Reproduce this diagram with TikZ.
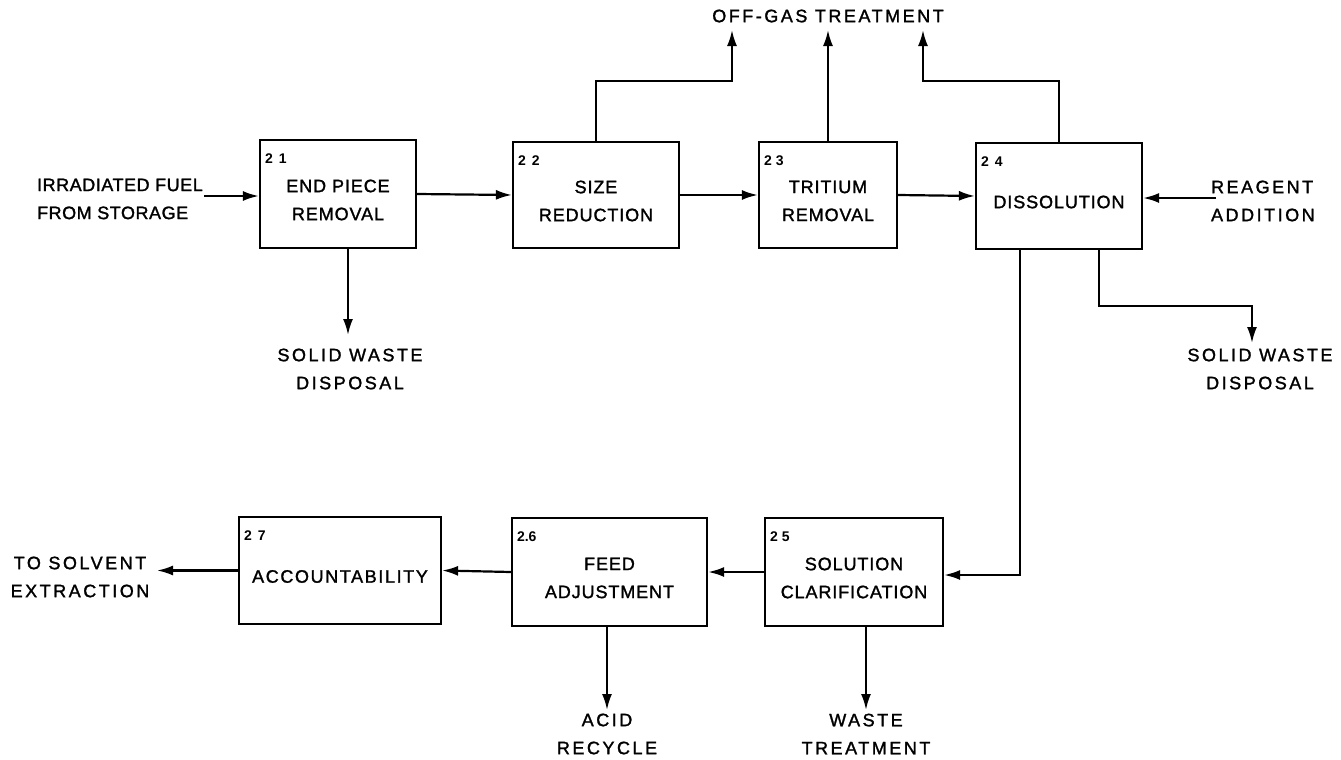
\documentclass[tikz,border=0pt]{standalone}
\usepackage{fontspec}
\setmainfont{Liberation Sans}
\newfontfamily\boxfont[LetterSpace=5,FakeBold=1.5]{Liberation Sans}
\newfontfamily\infont[LetterSpace=3,FakeBold=1.5]{Liberation Sans}
\newfontfamily\widefont[LetterSpace=14,FakeBold=1.5]{Liberation Sans}
\newfontfamily\numfont{Liberation Sans}
\usetikzlibrary{arrows.meta}
\begin{document}
\begin{tikzpicture}[x=0.5pt,y=-0.5pt,
  line width=1.1pt,
  arr/.style={-{Latex[length=8pt,width=5pt]}},
  stepbox/.style={draw, line width=1.1pt, inner sep=0pt},
  boxtxt/.style={inner sep=0pt, align=center, yshift=-3pt,
     font=\boxfont\fontsize{9}{14}\selectfont},
  numlbl/.style={anchor=north west, inner sep=0pt, xshift=2.5pt, yshift=-7pt,
     font=\numfont\bfseries\fontsize{7}{8}\selectfont},
  outlbl/.style={align=center, inner sep=0pt, font=\widefont\fontsize{9}{14}\selectfont},
  inlbl/.style={align=left, inner sep=0pt, font=\infont\fontsize{9}{14}\selectfont}]
\useasboundingbox (0,0) rectangle (1341,760);

% boxes
\node[stepbox, minimum width=78pt, minimum height=54pt] (b21) at (338,194) {};
\node[stepbox, minimum width=83pt, minimum height=53pt] (b22) at (596,195) {};
\node[stepbox, minimum width=69pt, minimum height=53pt] (b23) at (828,195) {};
\node[stepbox, minimum width=83pt, minimum height=53pt] (b24) at (1059,196) {};
\node[stepbox, minimum width=89pt, minimum height=54pt] (b25) at (854,572) {};
\node[stepbox, minimum width=97.5pt, minimum height=54pt] (b26) at (609.5,572) {};
\node[stepbox, minimum width=101pt, minimum height=53.5pt] (b27) at (340,570.5) {};

% box texts
\node[boxtxt] (t21) at (b21.center) {END PIECE\\REMOVAL};
\node[boxtxt] (t22) at (b22.center) {SIZE\\REDUCTION};
\node[boxtxt] (t23) at (b23.center) {TRITIUM\\REMOVAL};
\node[boxtxt] (t24) at (b24.center) {DISSOLUTION};
\node[boxtxt] (t25) at (b25.center) {SOLUTION\\CLARIFICATION};
\node[boxtxt] (t26) at (b26.center) {FEED\\ADJUSTMENT};
\node[boxtxt, font=\boxfont\addfontfeature{LetterSpace=9}\fontsize{9}{14}\selectfont] (t27) at (b27.center) {ACCOUNTABILITY};

% numbers
\node[numlbl] (n21) at (b21.north west) {2\hspace{3pt}1};
\node[numlbl] (n22) at (b22.north west) {2\hspace{3pt}2};
\node[numlbl] (n23) at (b23.north west) {2\hspace{2pt}3};
\node[numlbl] (n24) at (b24.north west) {2\hspace{3pt}4};
\node[numlbl] (n25) at (b25.north west) {2\hspace{2pt}5};
\node[numlbl] (n26) at (b26.north west) {2.6};
\node[numlbl] (n27) at (b27.north west) {2\hspace{3pt}7};

% coordinates
\coordinate (in21) at (204,196);
\coordinate (sw1) at (348,335);
\coordinate (j1) at (732,81);
\coordinate (og1) at (732,30);
\coordinate (og2) at (829,30);
\coordinate (og3) at (923,30);
\coordinate (j3) at (923,81);
\coordinate (rg) at (1216,198);
\coordinate (c1) at (1020,575);
\coordinate (j4) at (1099,306);
\coordinate (sw2) at (1252,343);
\coordinate (out) at (157,575);
\coordinate (ar) at (607,710);
\coordinate (wt) at (866,710);

% labels
\node[inlbl, anchor=west] (lin) at (36,199) {IRRADIATED FUEL\\FROM STORAGE};
\node[outlbl] (lsw1) at (350,369) {SOLID WASTE\\DISPOSAL};
\node[outlbl] (log) at (828,16) {OFF-GAS TREATMENT};
\node[inlbl, anchor=west, font=\widefont\fontsize{9}{14}\selectfont] (lrg) at (1210,201) {REAGENT\\ADDITION};
\node[outlbl] (lsw2) at (1260,369) {SOLID WASTE\\DISPOSAL};
\node[outlbl] (lout) at (80,577) {TO SOLVENT\\EXTRACTION};
\node[outlbl] (lar) at (607,734) {ACID\\RECYCLE};
\node[outlbl] (lwt) at (866,734) {WASTE\\TREATMENT};

% connectors
\draw[arr] (in21) -- (in21 -| b21.west);
\draw[arr] (b21.east) -- (b22.west);
\draw[arr] (b22.east) -- (b23.west);
\draw[arr] (b23.east) -- (b24.west);
\draw[arr] (b21.south -| sw1) -- (sw1);
\draw[arr] (b22.north) |- (j1) -- (og1);
\draw[arr] (b23.north) -- (b23.north |- og2);
\draw[arr] (b24.north) |- (j3) -- (og3);
\draw[arr] (rg) -- (rg -| b24.east);
\draw[arr] (b24.south -| c1) -- (c1) -- (c1 -| b25.east);
\draw[arr] (b24.south -| j4) -- (j4) -| (sw2);
\draw[arr] (b25.west) -- (b26.east);
\draw[arr] (b26.west) -- (b27.east);
\draw[arr] (b27.west) -- (b27.west -| out);
\draw[arr] (b26.south -| ar) -- (ar);
\draw[arr] (b25.south -| wt) -- (wt);
\end{tikzpicture}
\end{document}
